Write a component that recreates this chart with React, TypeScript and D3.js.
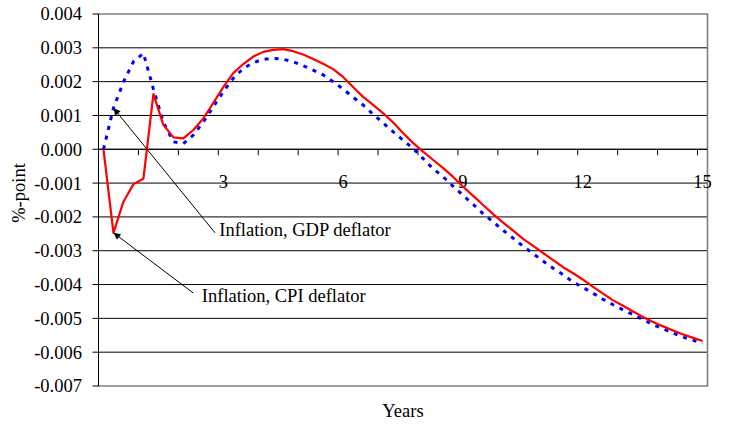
import { useEffect, useRef } from 'react';
import * as d3 from 'd3';

// quarterly observations, 0..60 = 15 years
const quarters = d3.range(0, 61);

const cpiInflation = [
  0, -0.00247, -0.00155, -0.00103, -0.00087, 0.00163, 0.00072, 0.00035, 0.00032, 0.00057,
  0.00091, 0.00137, 0.00184, 0.00225, 0.00252, 0.00274, 0.00288, 0.00294, 0.00296, 0.0029,
  0.0028, 0.00267, 0.00253, 0.00237, 0.00214, 0.00184, 0.00155, 0.00131, 0.00107, 0.0008,
  0.00048, 0.00019, -0.00007, -0.00031, -0.00055, -0.00081, -0.0011, -0.00137, -0.00164, -0.00191,
  -0.00216, -0.0024, -0.00264, -0.00285, -0.00306, -0.00327, -0.00348, -0.00366, -0.00385, -0.00406,
  -0.00426, -0.00446, -0.00462, -0.00479, -0.00495, -0.0051, -0.00523, -0.00535, -0.00547, -0.00557,
  -0.00567,
];

const gdpInflation = [
  0, 0.00122, 0.00199, 0.00259, 0.00284, 0.00178, 0.0008, 0.00022, 0.00017, 0.00042,
  0.00081, 0.00126, 0.0017, 0.0021, 0.00239, 0.00256, 0.00266, 0.00269, 0.00266, 0.00259,
  0.00247, 0.00234, 0.0022, 0.002, 0.00178, 0.00154, 0.00131, 0.00104, 0.00078, 0.00052,
  0.00027, 0.00003, -0.00027, -0.00057, -0.00081, -0.00109, -0.00136, -0.00162, -0.0019, -0.00214,
  -0.00239, -0.00262, -0.00286, -0.00308, -0.0033, -0.00351, -0.0037, -0.00392, -0.00408, -0.00425,
  -0.00443, -0.00459, -0.00474, -0.00488, -0.00503, -0.00518, -0.0053, -0.00543, -0.00555, -0.00564,
  -0.00573,
];

const yTicks = [0.004, 0.003, 0.002, 0.001, 0, -0.001, -0.002, -0.003, -0.004, -0.005, -0.006, -0.007];
const xTickQuarters = [4, 8, 12, 16, 20, 24, 28, 32, 36, 40, 44, 48, 52, 56, 60];
const xLabels = [
  { quarter: 12, label: '3' },
  { quarter: 24, label: '6' },
  { quarter: 36, label: '9' },
  { quarter: 48, label: '12' },
  { quarter: 60, label: '15' },
];

const annotations = [
  { label: 'Inflation, GDP deflator', data: gdpInflation, quarter: 1, textQ: 11.6, textV: -0.00257, tailQ: 11.17, tailV: -0.00247 },
  { label: 'Inflation, CPI deflator', data: cpiInflation, quarter: 1, textQ: 9.85, textV: -0.00452, tailQ: 8.99, tailV: -0.00425 },
];

const FONT = "'Liberation Serif', 'Times New Roman', serif";
const FS = 18.5;

export default function App() {
  const svgRef = useRef<SVGSVGElement>(null);

  useEffect(() => {
    if (!svgRef.current) return;
    const svg = d3.select(svgRef.current);
    svg.selectAll('*').remove();

    const plot = { left: 98.5, right: 707.5, top: 14, bottom: 386 };

    // category axis: each quarter sits in the middle of its slot
    const x = d3.scaleLinear().domain([-0.5, 60.5]).range([plot.left, plot.right]);
    const y = d3.scaleLinear().domain([-0.007, 0.004]).range([plot.bottom, plot.top]);

    svg.append('rect').attr('width', 730).attr('height', 427).attr('fill', '#fff');

    // arrow head
    svg.append('defs').append('marker')
      .attr('id', 'arrow')
      .attr('viewBox', '0 0 10 10')
      .attr('refX', 10).attr('refY', 5)
      .attr('markerUnits', 'userSpaceOnUse')
      .attr('markerWidth', 9).attr('markerHeight', 7)
      .attr('orient', 'auto')
      .append('path').attr('d', 'M0,0L10,5L0,10Z').attr('fill', '#000');

    // gridlines
    svg.append('g').selectAll('line')
      .data(yTicks.filter(d => d !== 0.004 && d !== -0.007))
      .join('line')
      .attr('x1', plot.left).attr('x2', plot.right)
      .attr('y1', d => y(d)).attr('y2', d => y(d))
      .attr('stroke', '#000').attr('stroke-width', 1);

    // plot border
    svg.append('path')
      .attr('d', `M${plot.left},${plot.top}H${plot.right}V${plot.bottom}H${plot.left}`)
      .attr('fill', 'none').attr('stroke', '#808080').attr('stroke-width', 1.6);

    // y axis
    svg.append('line')
      .attr('x1', plot.left).attr('x2', plot.left)
      .attr('y1', plot.top).attr('y2', plot.bottom)
      .attr('stroke', '#000');
    svg.append('g').selectAll('line')
      .data(yTicks).join('line')
      .attr('x1', plot.left - 6).attr('x2', plot.left)
      .attr('y1', d => y(d)).attr('y2', d => y(d))
      .attr('stroke', '#000');
    svg.append('g').selectAll('text')
      .data(yTicks).join('text')
      .attr('x', 82).attr('y', d => y(d)).attr('dy', '0.35em')
      .attr('text-anchor', 'end')
      .attr('font-family', FONT).attr('font-size', FS)
      .text(d => d3.format('.3f')(d).replace('−', '-'));

    // x axis at zero
    svg.append('line')
      .attr('x1', plot.left).attr('x2', plot.right)
      .attr('y1', y(0)).attr('y2', y(0))
      .attr('stroke', '#000');
    svg.append('g').selectAll('line')
      .data(xTickQuarters).join('line')
      .attr('x1', d => x(d - 0.5)).attr('x2', d => x(d - 0.5))
      .attr('y1', y(0)).attr('y2', y(0) + 6)
      .attr('stroke', '#000');
    svg.append('g').selectAll('text')
      .data(xLabels).join('text')
      .attr('x', d => x(d.quarter)).attr('y', y(0) + 39)
      .attr('text-anchor', 'middle')
      .attr('font-family', FONT).attr('font-size', FS)
      .text(d => d.label);

    // series
    const line = d3.line<number>()
      .x((_, i) => x(quarters[i]))
      .y(d => y(d));

    svg.append('path')
      .datum(gdpInflation)
      .attr('fill', 'none')
      .attr('stroke', '#0000ff')
      .attr('stroke-width', 3)
      .attr('stroke-dasharray', '4,6')
      .attr('d', line);

    svg.append('path')
      .datum(cpiInflation)
      .attr('fill', 'none')
      .attr('stroke', '#ff0000')
      .attr('stroke-width', 2.2)
      .attr('stroke-linejoin', 'round')
      .attr('d', line);

    // annotations
    const ann = svg.append('g').selectAll('g').data(annotations).join('g');
    ann.append('line')
      .attr('x1', d => x(d.tailQ)).attr('y1', d => y(d.tailV))
      .attr('x2', d => x(d.quarter)).attr('y2', d => y(d.data[d.quarter]))
      .attr('stroke', '#000').attr('stroke-width', 1)
      .attr('marker-end', 'url(#arrow)');
    ann.append('text')
      .attr('x', d => x(d.textQ)).attr('y', d => y(d.textV))
      .attr('font-family', FONT).attr('font-size', FS)
      .text(d => d.label);

    // axis titles
    svg.append('text')
      .attr('x', (plot.left + plot.right) / 2).attr('y', 417)
      .attr('text-anchor', 'middle')
      .attr('font-family', FONT).attr('font-size', FS)
      .text('Years');
    svg.append('text')
      .attr('transform', 'translate(19,193) rotate(-90)')
      .attr('dy', '0.35em')
      .attr('text-anchor', 'middle')
      .attr('font-family', FONT).attr('font-size', FS)
      .text('%-point');
  }, []);

  return (
    <svg
      ref={svgRef}
      width={730}
      height={427}
      style={{ position: 'absolute', left: 0, top: 0, display: 'block' }}
    />
  );
}
